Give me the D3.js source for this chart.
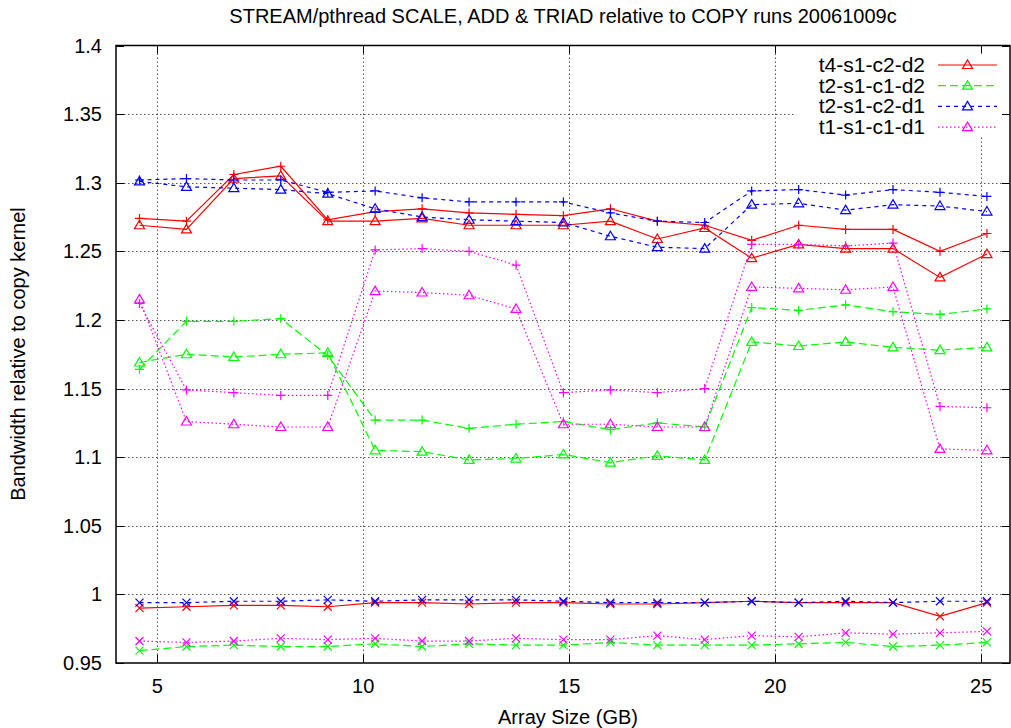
<!DOCTYPE html>
<html>
<head>
<meta charset="utf-8">
<script src="https://cdn.jsdelivr.net/npm/d3@7"></script>
<style>
  body { margin: 0; background: #fff; }
  text { font-family: "Liberation Sans", Arial, sans-serif; }
</style>
</head>
<body>
<script>
// array sizes in GB (x positions of the runs)
var sizes = [4.57, 5.71, 6.86, 8.00, 9.14, 10.29, 11.43, 12.57, 13.71, 14.86,
             16.00, 17.14, 18.29, 19.43, 20.57, 21.71, 22.86, 24.00, 25.14];

// t4-s1-c2-d2
var t4Add   = [1.274, 1.272, 1.306, 1.312, 1.273, 1.279, 1.281, 1.278, 1.277, 1.276, 1.281, 1.272, 1.269, 1.258, 1.269, 1.266, 1.266, 1.250, 1.263];
var t4Triad = [1.269, 1.266, 1.303, 1.305, 1.272, 1.272, 1.274, 1.269, 1.269, 1.269, 1.272, 1.259, 1.267, 1.245, 1.255, 1.252, 1.252, 1.231, 1.248];
var t4Scale = [0.990, 0.991, 0.992, 0.992, 0.991, 0.994, 0.994, 0.993, 0.994, 0.994, 0.993, 0.993, 0.994, 0.995, 0.994, 0.994, 0.994, 0.984, 0.994];

// t2-s1-c1-d2
var t2d2Add   = [1.164, 1.199, 1.199, 1.201, 1.174, 1.127, 1.127, 1.121, 1.124, 1.126, 1.120, 1.125, 1.122, 1.209, 1.207, 1.211, 1.206, 1.204, 1.208];
var t2d2Triad = [1.169, 1.175, 1.173, 1.175, 1.176, 1.105, 1.104, 1.098, 1.099, 1.102, 1.096, 1.101, 1.098, 1.184, 1.181, 1.184, 1.180, 1.178, 1.180];
var t2d2Scale = [0.959, 0.962, 0.963, 0.962, 0.962, 0.964, 0.962, 0.964, 0.963, 0.963, 0.965, 0.963, 0.963, 0.963, 0.964, 0.965, 0.962, 0.963, 0.965];

// t2-s1-c2-d1
var t2c2Add   = [1.302, 1.303, 1.302, 1.302, 1.293, 1.294, 1.289, 1.286, 1.286, 1.286, 1.278, 1.272, 1.271, 1.294, 1.295, 1.291, 1.295, 1.293, 1.290];
var t2c2Triad = [1.301, 1.297, 1.296, 1.295, 1.292, 1.281, 1.275, 1.273, 1.272, 1.271, 1.261, 1.253, 1.252, 1.284, 1.285, 1.280, 1.284, 1.283, 1.279];
var t2c2Scale = [0.994, 0.994, 0.995, 0.995, 0.996, 0.995, 0.996, 0.996, 0.996, 0.995, 0.994, 0.994, 0.994, 0.995, 0.994, 0.995, 0.994, 0.995, 0.995];

// t1-s1-c1-d1
var t1Add   = [1.212, 1.149, 1.147, 1.145, 1.145, 1.251, 1.252, 1.250, 1.240, 1.147, 1.149, 1.147, 1.150, 1.255, 1.255, 1.254, 1.256, 1.137, 1.136];
var t1Triad = [1.215, 1.126, 1.124, 1.122, 1.122, 1.221, 1.220, 1.218, 1.208, 1.124, 1.124, 1.122, 1.122, 1.224, 1.223, 1.222, 1.224, 1.106, 1.105];
var t1Scale = [0.966, 0.965, 0.966, 0.968, 0.967, 0.968, 0.966, 0.966, 0.968, 0.967, 0.967, 0.970, 0.967, 0.970, 0.969, 0.972, 0.971, 0.972, 0.973];

var xTicks = [5, 10, 15, 20, 25];
var yTicks = [0.95, 1, 1.05, 1.1, 1.15, 1.2, 1.25, 1.3, 1.35, 1.4];

var configs = [
  {name: "t4-s1-c2-d2", color: "#ff0000", dash: null,      runs: [t4Add, t4Triad, t4Scale]},
  {name: "t2-s1-c1-d2", color: "#00ff00", dash: "8,4",     runs: [t2d2Add, t2d2Triad, t2d2Scale]},
  {name: "t2-s1-c2-d1", color: "#0000ff", dash: "4,4",     runs: [t2c2Add, t2c2Triad, t2c2Scale]},
  {name: "t1-s1-c1-d1", color: "#ff00ff", dash: "1.5,2.5", runs: [t1Add, t1Triad, t1Scale]}
];

// marker shapes: add = plus, triad = triangle, scale = cross
var markers = [
  "M-4.5,0H4.5M0,-4.5V4.5",
  "M0,-5L5,3.5L-5,3.5Z",
  "M-4,-4L4,4M-4,4L4,-4"
];

var width = 1011, height = 728;
// plot frame (named so they don't clash with window.top)
var plotL = 116, plotR = 1010, plotT = 45.5, plotB = 663;

var svg = d3.select("body")
            .append("svg")
            .attr("width", width)
            .attr("height", height);

var x = d3.scaleLinear().domain([4, 25.7]).range([plotL, plotR]);
var y = d3.scaleLinear().domain([0.95, 1.4]).range([plotB, plotT]);

// grid
var grid = svg.append("g")
              .attr("stroke", "#555")
              .attr("stroke-width", 1)
              .attr("stroke-dasharray", "1.5,2.5");

grid.selectAll(".gx")
    .data(xTicks)
    .enter()
    .append("line")
    .attr("x1", function(d) { return Math.round(x(d)) + 0.5; })
    .attr("x2", function(d) { return Math.round(x(d)) + 0.5; })
    .attr("y1", plotT)
    .attr("y2", plotB);

grid.selectAll(".gy")
    .data(yTicks.slice(1, -1))
    .enter()
    .append("line")
    .attr("x1", plotL)
    .attr("x2", plotR)
    .attr("y1", function(d) { return Math.round(y(d)) + 0.5; })
    .attr("y2", function(d) { return Math.round(y(d)) + 0.5; });

// legend background hides the grid behind the key
svg.append("rect")
   .attr("x", 795)
   .attr("y", 53)
   .attr("width", 212)
   .attr("height", 84)
   .attr("fill", "#fff");

// axes, ticks on all four sides pointing inward
var axes = svg.append("g")
              .attr("stroke", "#000")
              .attr("fill", "none");

axes.append("rect")
    .attr("x", plotL)
    .attr("y", plotT)
    .attr("width", plotR - plotL)
    .attr("height", plotB - plotT)
    .attr("stroke-width", 1.5);

yTicks.forEach(function(d) {
  var yy = Math.round(y(d)) + 0.5;
  axes.append("line").attr("x1", plotL).attr("x2", plotL + 8).attr("y1", yy).attr("y2", yy);
  axes.append("line").attr("x1", plotR).attr("x2", plotR - 8).attr("y1", yy).attr("y2", yy);
});
xTicks.forEach(function(d) {
  var xx = Math.round(x(d)) + 0.5;
  axes.append("line").attr("x1", xx).attr("x2", xx).attr("y1", plotB).attr("y2", plotB - 8);
  axes.append("line").attr("x1", xx).attr("x2", xx).attr("y1", plotT).attr("y2", plotT + 8);
});

svg.selectAll(".ylab")
   .data(yTicks)
   .enter()
   .append("text")
   .attr("x", plotL - 14)
   .attr("y", function(d) { return y(d) + 7; })
   .attr("text-anchor", "end")
   .attr("font-size", 20)
   .text(function(d) { return d3.format("")(d); });

svg.selectAll(".xlab")
   .data(xTicks)
   .enter()
   .append("text")
   .attr("x", function(d) { return x(d); })
   .attr("y", plotB + 30)
   .attr("text-anchor", "middle")
   .attr("font-size", 20)
   .text(function(d) { return d; });

svg.append("text")
   .attr("x", 568)
   .attr("y", 724)
   .attr("text-anchor", "middle")
   .attr("font-size", 20)
   .text("Array Size (GB)");

svg.append("text")
   .attr("transform", "translate(25,354) rotate(-90)")
   .attr("text-anchor", "middle")
   .attr("font-size", 20)
   .text("Bandwidth relative to copy kernel");

svg.append("text")
   .attr("x", 563)
   .attr("y", 23)
   .attr("text-anchor", "middle")
   .attr("font-size", 20)
   .text("STREAM/pthread SCALE, ADD & TRIAD relative to COPY runs 20061009c");

// data lines
var line = d3.line()
             .x(function(d, i) { return x(sizes[i]); })
             .y(function(d) { return y(d); });

configs.forEach(function(c) {
  var g = svg.append("g");
  c.runs.forEach(function(run, k) {
    g.append("path")
     .attr("d", line(run))
     .attr("fill", "none")
     .attr("stroke", c.color)
     .attr("stroke-width", 1.2)
     .attr("stroke-dasharray", c.dash);

    g.selectAll(".m" + k)
     .data(run)
     .enter()
     .append("path")
     .attr("transform", function(d, i) { return "translate(" + x(sizes[i]) + "," + y(d) + ")"; })
     .attr("d", markers[k])
     .attr("fill", "none")
     .attr("stroke", c.color)
     .attr("stroke-width", 1.2);
  });
});

// key
var key = svg.append("g")
             .selectAll("g")
             .data(configs)
             .enter()
             .append("g")
             .attr("transform", function(d, i) { return "translate(0," + (65 + i * 20.7) + ")"; });

key.append("text")
   .attr("x", 925)
   .attr("y", 7)
   .attr("text-anchor", "end")
   .attr("font-size", 21)
   .text(function(d) { return d.name; });

key.append("line")
   .attr("x1", 938)
   .attr("x2", 997)
   .attr("stroke", function(d) { return d.color; })
   .attr("stroke-width", 1.2)
   .attr("stroke-dasharray", function(d) { return d.dash; });

key.append("path")
   .attr("transform", "translate(967.5,0)")
   .attr("d", markers[1])
   .attr("fill", "none")
   .attr("stroke", function(d) { return d.color; })
   .attr("stroke-width", 1.2);
</script>
</body>
</html>
